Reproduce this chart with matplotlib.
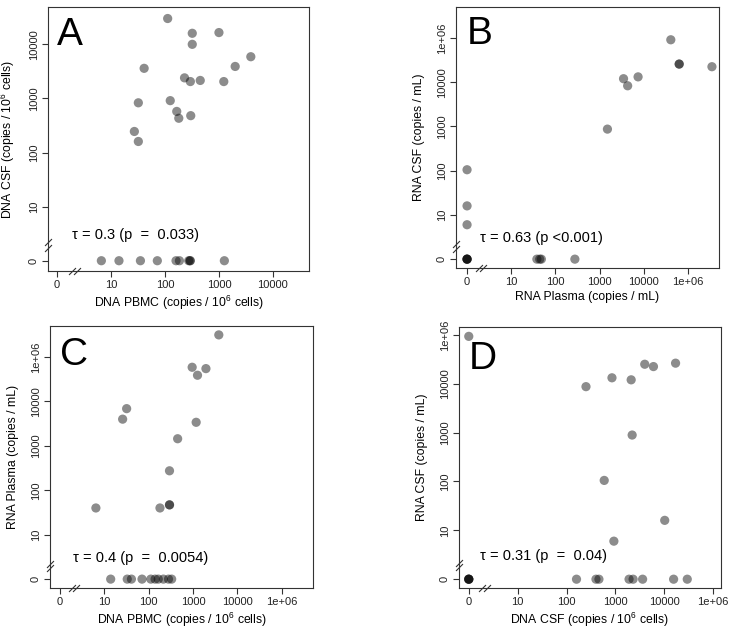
import numpy as np
import matplotlib
matplotlib.use("Agg")
import matplotlib.pyplot as plt

plt.rcParams['font.family'] = ['Liberation Sans', 'DejaVu Sans']
plt.rcParams['mathtext.fontset'] = 'custom'
plt.rcParams['mathtext.rm'] = 'Liberation Sans'
plt.rcParams['mathtext.default'] = 'regular'

# A: DNA PBMC vs DNA CSF (copies / 10^6 cells)
a_x = [112, 320, 320, 1000, 3900, 2000, 41, 230, 295, 450, 1230, 125, 32, 165, 180, 300, 27, 32,
       6.6, 14, 35, 72, 160, 185, 275, 290, 295, 1260]
a_y = [30000, 16000, 10000, 16500, 5900, 3900, 3600, 2400, 2050, 2150, 2050, 910, 830, 575, 430, 480, 245, 160,
       0, 0, 0, 0, 0, 0, 0, 0, 0, 0]

# B: RNA Plasma vs RNA CSF (copies / mL)
b_x = [40700, 63000, 63000, 347000, 3470, 7400, 4300, 1500, 0, 0, 0,
       0, 0, 0, 0, 38, 44, 48, 275]
b_y = [91000, 25700, 25700, 22400, 12000, 13200, 8300, 870, 105, 16, 6,
       0, 0, 0, 0, 0, 0, 0, 0]

# C: DNA PBMC vs RNA Plasma
c_x = [3800, 955, 1950, 1260, 32, 26, 1175, 450, 295, 295, 295, 180, 6.5,
       14, 33, 41, 71, 112, 140, 165, 215, 280, 330]
c_y = [316000, 59000, 55000, 39000, 6900, 4000, 3400, 1450, 275, 47, 47, 40, 40,
       0, 0, 0, 0, 0, 0, 0, 0, 0, 0]

# D: DNA CSF vs RNA CSF
d_x = [0, 3980, 6000, 17000, 850, 2100, 250, 2200, 590, 10200, 930,
       0, 0, 0, 0, 160, 400, 460, 1900, 2300, 3600, 15500, 29500]
d_y = [93000, 25000, 22400, 26300, 13200, 12000, 8700, 890, 105, 16, 6,
       0, 0, 0, 0, 0, 0, 0, 0, 0, 0, 0, 0]

tick_labels = ['0', '10', '100', '1000', '10000', '1e+06']
dna_pbmc = 'DNA PBMC (copies / 10$^6$ cells)'
dna_csf = 'DNA CSF (copies / 10$^6$ cells)'
rna_plasma = 'RNA Plasma (copies / mL)'
rna_csf = 'RNA CSF (copies / mL)'


def to_pos(v):
    # 0 sits one decade below 10, the rest on log10
    v = np.asarray(v, dtype=float)
    out = np.zeros_like(v)
    out[v > 0] = np.log10(v[v > 0])
    return out


panels = [
    dict(letter='A', x=a_x, y=a_y, xlabel=dna_pbmc, ylabel=dna_csf, nt=5,
         tau='\u03c4 = 0.3 (p  =  0.033)', tpos=(0.28, 0.48),
         rect=(48, 7, 309, 271), xlim=(-0.17, 4.67), ylim=(-0.19, 4.69), lpos=(0.034, 0.856)),
    dict(letter='B', x=b_x, y=b_y, xlabel=rna_plasma, ylabel=rna_csf, nt=6,
         tau='\u03c4 = 0.63 (p <0.001)', tpos=(0.3, 0.48),
         rect=(456, 7, 719, 268), xlim=(-0.25, 5.7), ylim=(-0.2, 5.7), lpos=(0.04, 0.858)),
    dict(letter='C', x=c_x, y=c_y, xlabel=dna_pbmc, ylabel=rna_plasma, nt=6,
         tau='\u03c4 = 0.4 (p  =  0.0054)', tpos=(0.29, 0.47),
         rect=(50, 326, 313, 588), xlim=(-0.22, 5.7), ylim=(-0.2, 5.7), lpos=(0.038, 0.851)),
    dict(letter='D', x=d_x, y=d_y, xlabel=dna_csf, ylabel=rna_csf, nt=6,
         tau='\u03c4 = 0.31 (p  =  0.04)', tpos=(0.23, 0.47),
         rect=(459, 327, 721, 588), xlim=(-0.2, 5.16), ylim=(-0.18, 5.16), lpos=(0.038, 0.839)),
]

W, H = 732, 631
fig = plt.figure(figsize=(W / 100, H / 100), dpi=100)

for p in panels:
    l, t, r, b = p['rect']
    ax = fig.add_axes([l / W, 1 - b / H, (r - l) / W, (b - t) / H])
    ax.scatter(to_pos(p['x']), to_pos(p['y']), s=44, color='black', alpha=0.45,
               edgecolors='none', zorder=3)
    ax.set_xlim(*p['xlim'])
    ax.set_ylim(*p['ylim'])
    ticks = np.arange(p['nt'])
    ax.set_xticks(ticks)
    ax.set_xticklabels(tick_labels[:p['nt']])
    ax.set_yticks(ticks)
    ax.set_yticklabels(tick_labels[:p['nt']], rotation=90, va='center')
    ax.tick_params(length=4.5, width=0.8, pad=2, labelsize=8, color='#333333', labelcolor='#222222')
    for s in ax.spines.values():
        s.set_linewidth(0.8)
        s.set_color('#333333')
    ax.set_xlabel(p['xlabel'], fontsize=8.8, labelpad=3)
    ax.set_ylabel(p['ylabel'], fontsize=8.8)
    ax.yaxis.set_label_coords(-0.117, 0.5)
    ax.text(p['tpos'][0], p['tpos'][1], p['tau'], fontsize=10.5, ha='left', va='center')
    ax.text(p['lpos'][0], p['lpos'][1], p['letter'], fontsize=28, transform=ax.transAxes,
            ha='left', va='baseline')

    # axis break marks between 0 and 10
    brk = dict(marker=[(-1, -1), (1, 1)], markersize=5, linestyle='none', color='#333333',
               mew=0.8, clip_on=False)
    ax.plot([0.27, 0.37], [0, 0], transform=ax.get_xaxis_transform(), **brk)
    ax.plot([0, 0], [0.24, 0.34], transform=ax.get_yaxis_transform(), **brk)

fig.savefig('out.png', dpi=100)
